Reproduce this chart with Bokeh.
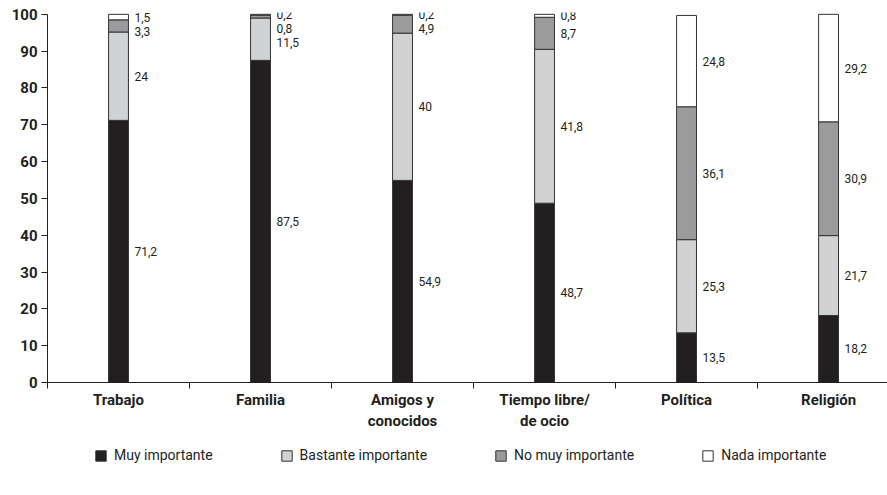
from bokeh.plotting import figure
from bokeh.layouts import column
from bokeh.models import Range1d, FixedTicker, ColumnDataSource, Legend, LegendItem
from bokeh.embed import file_html
from bokeh.resources import INLINE

# Survey data: importance given to each life domain (%)
categories = ["Trabajo", "Familia", "Amigos y\nconocidos", "Tiempo libre/\nde ocio", "Política", "Religión"]
muy_importante = [71.2, 87.5, 54.9, 48.7, 13.5, 18.2]
bastante_importante = [24, 11.5, 40, 41.8, 25.3, 21.7]
no_muy_importante = [3.3, 0.8, 4.9, 8.7, 36.1, 30.9]
nada_importante = [1.5, 0.2, 0.2, 0.8, 24.8, 29.2]
series_names = ["Muy importante", "Bastante importante", "No muy importante", "Nada importante"]
y_ticks = [0, 10, 20, 30, 40, 50, 60, 70, 80, 90, 100]

FONT = "Roboto"
INK = "#231f20"
OUTLINE = "#333333"
colors = ["#231f20", "#d1d2d4", "#9b9b9d", "#ffffff"]
series = [muy_importante, bastante_importante, no_muy_importante, nada_importante]
keys = ["muy", "bastante", "no_muy", "nada"]

n = len(categories)
xs = [i + 0.5 for i in range(n)]
bar_w = 0.14

data = {"x": xs}
for k, s in zip(keys, series):
    data[k] = s
source = ColumnDataSource(data)

p = figure(width=887, height=440, output_backend="svg", toolbar_location=None,
           x_range=Range1d(0, 5.915), y_range=Range1d(0, 100.5),
           min_border_left=47, min_border_right=0, min_border_top=12,
           min_border_bottom=58)
p.outline_line_color = None
p.xgrid.visible = False
p.ygrid.visible = False

p.vbar_stack(keys, x="x", width=bar_w, source=source, color=colors,
             line_color=OUTLINE, line_width=1)

# value labels to the right of each segment, nudged apart when they crowd
lab_x, lab_y, lab_t = [], [], []
gap = 3.8
for i in range(n):
    bottom = 0.0
    mids = []
    for s in series:
        v = s[i]
        mids.append((bottom + v / 2.0, v))
        bottom += v
    prev = None
    for mid, v in reversed(mids):
        y = mid if prev is None else min(mid, prev - gap)
        prev = y
        txt = (str(int(v)) if float(v).is_integer() else str(v)).replace(".", ",")
        lab_x.append(xs[i] + bar_w / 2)
        lab_y.append(y)
        lab_t.append(txt)

p.text(x=lab_x, y=lab_y, text=lab_t, x_offset=6, text_align="left",
       text_baseline="middle", text_font_size="12px", text_color=INK,
       text_font={"value": FONT})

# y axis
yax = p.yaxis[0]
yax.ticker = FixedTicker(ticks=y_ticks)
yax.bounds = (0, 100)
yax.major_label_text_font = FONT
yax.major_label_text_font_size = "15px"
yax.major_label_text_font_style = "bold"
yax.major_label_text_color = INK
yax.axis_line_color = INK
yax.major_tick_line_color = INK
yax.major_tick_out = 6
yax.major_tick_in = 0
yax.minor_tick_line_color = None
yax.major_label_standoff = 4

# x axis: labels at category centres, tick marks at the boundaries
xax = p.xaxis[0]
xax.ticker = FixedTicker(ticks=xs, minor_ticks=list(range(n + 1)))
xax.major_label_overrides = {x: c for x, c in zip(xs, categories)}
xax.major_label_text_font = FONT
xax.major_label_text_font_size = "15px"
xax.major_label_text_font_style = "bold"
xax.major_label_text_color = INK
xax.axis_line_color = INK
xax.major_tick_line_color = None
xax.minor_tick_line_color = INK
xax.minor_tick_out = 6
xax.minor_tick_in = 0
xax.major_label_standoff = 2

# legend strip underneath the chart; the swatch renderers sit outside its view
leg = figure(width=887, height=55, output_backend="svg", toolbar_location=None,
             x_range=Range1d(0, 1), y_range=Range1d(0, 1),
             min_border=0)
leg.axis.visible = False
leg.xgrid.visible = False
leg.ygrid.visible = False
leg.outline_line_color = None

offscreen = ColumnDataSource({"x": [5.0], "top": [5.0]})
swatches = [leg.vbar(x="x", top="top", bottom=4.0, width=0.1, source=offscreen,
                     fill_color=c, line_color=OUTLINE, line_width=1) for c in colors]

legend = Legend(items=[LegendItem(label=nm, renderers=[r]) for nm, r in zip(series_names, swatches)],
                orientation="horizontal", location=(47, 32))
legend.glyph_width = 13
legend.glyph_height = 13
legend.label_standoff = 7
legend.spacing = 67
legend.padding = 10
legend.label_text_font = FONT
legend.label_text_font_size = "14px"
legend.label_text_color = INK
legend.border_line_color = None
legend.background_fill_alpha = 0
legend.margin = 0
leg.add_layout(legend, "center")

layout = column(p, leg, spacing=0)
open("out.html", "w").write(file_html(layout, INLINE))
